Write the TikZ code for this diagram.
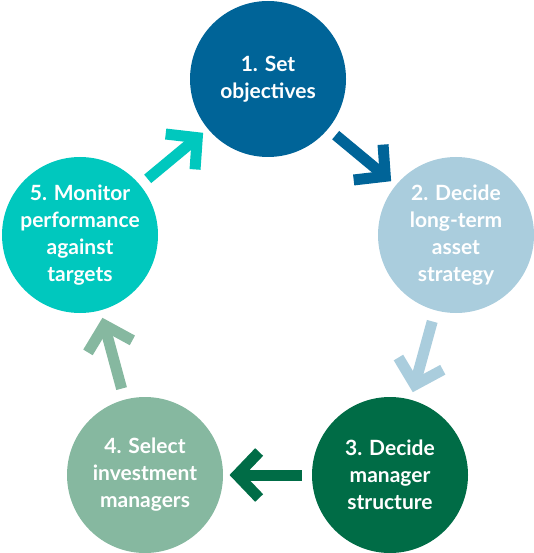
\documentclass[tikz,border=0pt]{standalone}
\usepackage{fontspec}
\setmainfont{Lato}
\definecolor{setblue}{RGB}{0,100,152}
\definecolor{stratblue}{RGB}{170,205,221}
\definecolor{mangreen}{RGB}{0,108,70}
\definecolor{selgreen}{RGB}{134,184,160}
\definecolor{monteal}{RGB}{0,200,190}
\usetikzlibrary{arrows.meta, calc}

\begin{document}
\begin{tikzpicture}[x=1pt, y=-1pt,
    stage/.style={circle, minimum size=156pt, inner sep=0pt, text=white,
        font=\bfseries\fontsize{21}{27}\selectfont, align=center},
    flow/.style={line width=11pt, line cap=butt,
        -{Straight Barb[line join=miter, line cap=butt, length=22pt, width=46pt]}}
  ]
  \useasboundingbox (0,0) rectangle (533,553);
  \node[stage, fill=setblue]   (obj)   at (268,79)  {1. Set\\objectives};
  \node[stage, fill=stratblue] (strat) at (456,235) {2. Decide\\long-term\\asset\\strategy};
  \node[stage, fill=mangreen]  (mgr)   at (390,475) {3. Decide\\manager\\structure};
  \node[stage, fill=selgreen]  (sel)   at (145,475) {4. Select\\investment\\managers};
  \node[stage, fill=monteal]   (mon)   at (80,235)  {5. Monitor\\performance\\against\\targets};
  \draw[flow, setblue]   ($(obj)!0.36!(strat)$) -- ($(obj)!0.655!(strat)$);
  \draw[flow, stratblue] ($(strat)!0.36!(mgr)$) -- ($(strat)!0.655!(mgr)$);
  \draw[flow, mangreen]  ($(mgr)!0.36!(sel)$)   -- ($(mgr)!0.655!(sel)$);
  \draw[flow, selgreen]  ($(sel)!0.36!(mon)$)   -- ($(sel)!0.655!(mon)$);
  \draw[flow, monteal]   ($(mon)!0.36!(obj)$)   -- ($(mon)!0.655!(obj)$);
\end{tikzpicture}
\end{document}
